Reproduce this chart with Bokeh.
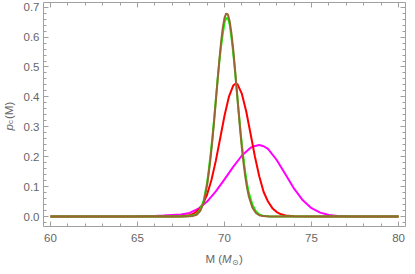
import math
from bokeh.plotting import figure
from bokeh.models import (Range1d, SingleIntervalTicker, LinearAxis, NumeralTickFormatter,
                          CustomLabelingPolicy)
from bokeh.core.properties import value
from bokeh.embed import file_html
from bokeh.resources import INLINE

# ---- data ----
mag_x = [60, 64, 65, 66, 66.5, 67, 67.5, 68, 68.5, 69, 69.5, 70, 70.5, 71, 71.5, 71.75, 72,
         72.25, 72.5, 73, 73.5, 74, 74.5, 75, 75.5, 76, 76.5, 77, 78, 80]
mag_y = [0, 0.0003, 0.0008, 0.002, 0.003, 0.005, 0.007, 0.012, 0.026, 0.05, 0.084, 0.124,
         0.166, 0.204, 0.23, 0.236, 0.239, 0.235, 0.226, 0.189, 0.141, 0.093, 0.054, 0.028,
         0.013, 0.0053, 0.0019, 0.0006, 0.0001, 0]

red_x = [60, 66, 67, 67.5, 68, 68.25, 68.5, 68.75, 69, 69.25, 69.5, 69.75, 70, 70.25,
         70.5, 70.65, 70.75, 71, 71.25, 71.5, 71.75, 72, 72.25, 72.5, 72.75, 73, 73.25,
         73.5, 74, 75, 80]
red_y = [0, 0, 0.0001, 0.0006, 0.0043, 0.0099, 0.021, 0.041, 0.0737, 0.122, 0.186, 0.261,
         0.337, 0.400, 0.438, 0.445, 0.442, 0.410, 0.351, 0.276, 0.200, 0.134, 0.082,
         0.050, 0.028, 0.015, 0.0075, 0.0035, 0.0008, 0, 0]

nar_x = [60, 67, 67.6, 68, 68.2, 68.4, 68.6, 68.8, 69.0,
         69.1, 69.2, 69.3, 69.4, 69.5, 69.6, 69.7, 69.8, 69.9, 70.0, 70.1, 70.2,
         70.3, 70.4, 70.5, 70.6, 70.7, 70.8, 70.9, 71.0, 71.1, 71.2, 71.3, 71.4,
         71.6, 71.8, 72.0, 72.2, 72.6, 73, 80]
green_y = [0, 0, 0.0002, 0.0016, 0.0047, 0.008, 0.022, 0.052, 0.112,
           0.158, 0.207, 0.262, 0.324, 0.39, 0.455, 0.515, 0.568, 0.61, 0.648, 0.664, 0.662,
           0.642, 0.598, 0.548, 0.489, 0.425, 0.360, 0.298, 0.240, 0.189, 0.145, 0.108, 0.079,
           0.040, 0.018, 0.007, 0.0025, 0.0003, 0, 0]
brown_y = [0, 0, 0.0001, 0.0007, 0.002, 0.006, 0.018, 0.045, 0.105,
           0.148, 0.196, 0.253, 0.316, 0.384, 0.454, 0.521, 0.581, 0.630, 0.664, 0.679, 0.675,
           0.652, 0.612, 0.559, 0.495, 0.426, 0.357, 0.290, 0.229, 0.176, 0.131, 0.095, 0.067,
           0.0305, 0.0124, 0.0045, 0.0014, 0.0001, 0, 0]

# plot box (data limits of the framed area)
X0, X1 = 59.6, 80.4
Y0, Y1 = -0.0334, 0.7157

# ---- styles ----
FRAME = "#a0a0a0"
TXT = "#666666"
FONT = "Liberation Sans"
FS = "11.5px"

W, H = 407, 266
BL, BR, BT, BB = 43, 2, 2, 40          # pixel margins around the framed box
kx = (W - BL - BR) / (X1 - X0)
ky = (H - BT - BB) / (Y1 - Y0)

p = figure(width=W, height=H,
           x_range=Range1d(X0 - BL / kx, X1 + BR / kx),
           y_range=Range1d(Y0 - BB / ky, Y1 + BT / ky),
           output_backend="svg", toolbar_location=None,
           min_border_left=0, min_border_right=0, min_border_top=0, min_border_bottom=0,
           x_axis_location=None, y_axis_location=None)
p.grid.visible = False
p.outline_line_color = None
p.background_fill_color = "white"
p.border_fill_color = "white"

p.line(mag_x, mag_y, line_color="#ff00ff", line_width=2)
p.line(red_x, red_y, line_color="#ff0000", line_width=2)
p.line(nar_x, green_y, line_color="#00ff00", line_width=2)
p.line(nar_x, brown_y, line_color="#996633", line_width=2)

HIDE = CustomLabelingPolicy(code="for (const i of indices) { indices.unset(i) }\nreturn indices")


def make_axis(interval, loc, bounds, labels=True, fmt=None):
    ax = LinearAxis(ticker=SingleIntervalTicker(interval=interval, num_minor_ticks=5),
                    fixed_location=loc, bounds=bounds)
    ax.axis_line_color = FRAME
    ax.major_tick_line_color = FRAME
    ax.minor_tick_line_color = FRAME
    ax.major_tick_in = 5
    ax.major_tick_out = 0
    ax.minor_tick_in = 3
    ax.minor_tick_out = 0
    if fmt is not None:
        ax.formatter = fmt
    if labels:
        ax.major_label_text_font = FONT
        ax.major_label_text_font_size = FS
        ax.major_label_text_color = TXT
    else:
        ax.major_label_text_font_size = "1px"
        ax.major_label_standoff = 0
        ax.major_label_policy = HIDE
    return ax


bottom = make_axis(5, Y0, (X0, X1))
bottom.major_label_standoff = 7
p.add_layout(bottom, "below")
left = make_axis(0.1, X0, (Y0, Y1), fmt=NumeralTickFormatter(format="0.0"))
left.major_label_standoff = 4
p.add_layout(left, "left")
p.add_layout(make_axis(5, Y1, (X0, X1), labels=False), "above")
p.add_layout(make_axis(0.1, X1, (Y0, Y1), labels=False), "right")


def px_x(px):
    return X0 + (px - BL) / kx


def px_y(py):
    return Y1 - (py - BT) / ky


def lab(px, py, text, style="normal", size=FS, angle=0.0, font=FONT):
    p.text(x=[px_x(px)], y=[px_y(py)], text=[text], text_font=value(font),
           text_font_size=size, text_font_style=style, text_color=TXT,
           text_baseline="middle", text_align="left", angle=angle)

# x axis label: M (M_sun)
lab(205, 258, "M (")
lab(221.5, 258, "M", style="italic")
lab(231.5, 262, "\u2299", size="8px", font="DejaVu Sans")
lab(238.5, 258, ")")

# y axis label: p_c(M)
A = math.pi / 2
lab(8, 130, "p", style="italic", angle=A)
lab(10, 123.5, "c", size="8px", angle=A)
lab(8, 118.5, "(M)", angle=A)

open("out.html", "w").write(file_html(p, INLINE))
